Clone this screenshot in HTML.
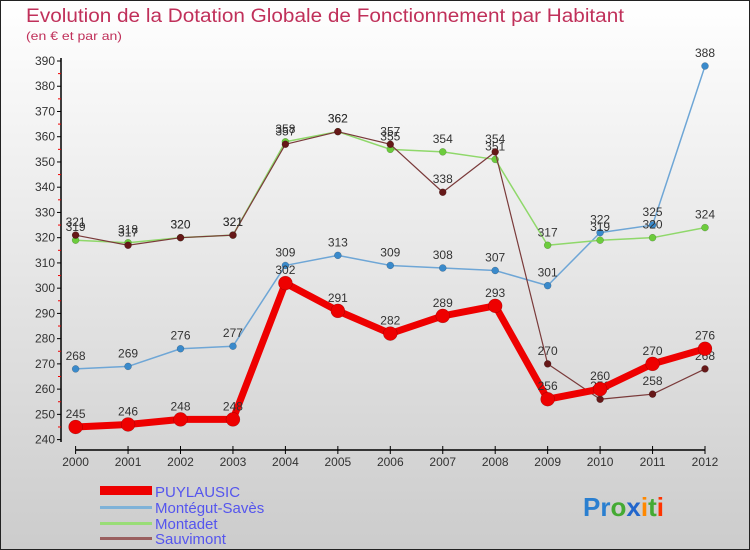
<!DOCTYPE html>
<html><head><meta charset="utf-8"><style>
body{margin:0}
#c{width:750px;height:550px;position:relative;overflow:hidden}
</style></head><body>
<div id="c">
<svg id="s" width="750" height="550" xmlns="http://www.w3.org/2000/svg" font-family="Liberation Sans, sans-serif">
<defs><linearGradient id="bg" x1="0" y1="0" x2="0" y2="1"><stop offset="0" stop-color="#ffffff"/><stop offset="1" stop-color="#cccccc"/></linearGradient></defs>
<rect x="0.5" y="0.5" width="749" height="549" fill="url(#bg)" stroke="#222" stroke-width="1"/>
<text x="26" y="22" font-size="19" fill="#c0305a" textLength="598" lengthAdjust="spacingAndGlyphs">Evolution de la Dotation Globale de Fonctionnement par Habitant</text>
<text x="26" y="40" font-size="12" fill="#c0305a" textLength="96" lengthAdjust="spacingAndGlyphs">(en € et par an)</text>
<g id="axes"></g><g id="series"></g>
<g>
<rect x="100" y="486" width="52" height="9" fill="#ee0000"/>
<text x="155" y="497" font-size="15" fill="#5555ee">PUYLAUSIC</text>
<rect x="100" y="506" width="52" height="3" fill="#7fb2d8"/>
<text x="155" y="513" font-size="15" fill="#5555ee">Montégut-Savès</text>
<rect x="100" y="522" width="52" height="3" fill="#99dd77"/>
<text x="155" y="529" font-size="15" fill="#5555ee">Montadet</text>
<rect x="100" y="537" width="52" height="3" fill="#9a6060"/>
<text x="155" y="544" font-size="15" fill="#5555ee">Sauvimont</text>
</g>
<g font-size="26" font-weight="bold">
<text x="583" y="516"><tspan fill="#2a7fd0">Pr</tspan><tspan fill="#44aa33">o</tspan><tspan fill="#2266cc">x</tspan><tspan fill="#ff8800">i</tspan><tspan fill="#44aa33">t</tspan><tspan fill="#ff3300">i</tspan></text>
</g>
</svg></div>
<script>
const years=[2000,2001,2002,2003,2004,2005,2006,2007,2008,2009,2010,2011,2012];
const yTicks=[240,250,260,270,280,290,300,310,320,330,340,350,360,370,380,390];
const puylausic=[245,246,248,248,302,291,282,289,293,256,260,270,276];
const montegut=[268,269,276,277,309,313,309,308,307,301,322,325,388];
const montadet=[319,318,320,321,358,362,355,354,351,317,319,320,324];
const sauvimont=[321,317,320,321,357,362,357,338,354,270,256,258,268];
const NS="http://www.w3.org/2000/svg";
function X(i){return 75.6+i*52.45;}
function Y(v){return 61+(390-v)*2.524;}
function el(t,a,p){const e=document.createElementNS(NS,t);for(const k in a)e.setAttribute(k,a[k]);p.appendChild(e);return e;}
const ax=document.getElementById('axes');
const yl=el('line',{x1:61,y1:58,x2:61,y2:442,stroke:'#000','stroke-width':1.5},ax);


yTicks.forEach(v=>{
 el('line',{x1:57,x2:61,y1:Y(v),y2:Y(v),stroke:'#000'},ax);
 if(v<390) el('line',{x1:58,x2:61,y1:Y(v+5),y2:Y(v+5),stroke:'#e00'},ax);
 const t=el('text',{x:55,y:Y(v)+4,'text-anchor':'end','font-size':12,fill:'#333'},ax);
 
 
 t.textContent=v;
});
const xl=el('line',{x1:X(0),y1:450,x2:X(12),y2:450,stroke:'#000','stroke-width':1.5},ax);


years.forEach((y,i)=>{
 el('line',{x1:X(i),x2:X(i),y1:446,y2:454,stroke:'#000'},ax);
 const t=el('text',{x:X(i),y:466,'text-anchor':'middle','font-size':12,fill:'#333'},ax);
 
 
 t.textContent=y;
});
const sg=document.getElementById('series');
function draw(data,name,col,dot,w,r){
 const g=el('g',{},sg);
 
 
 el('polyline',{points:data.map((v,i)=>X(i)+','+Y(v)).join(' '),fill:'none',stroke:col,'stroke-width':w,'stroke-linejoin':'round'},g);
 data.forEach((v,i)=>{
  const c=el('circle',{cx:X(i),cy:Y(v),r:r,fill:dot,stroke:'rgba(0,0,0,0.3)','stroke-width':0.5},g);
  
  
  const t=el('text',{x:X(i),y:Y(v)-9,'text-anchor':'middle','font-size':12,fill:'#333'},g);
  
  
  t.textContent=v;
 });
}
draw(montegut,'montegut-saves','#6ea6d6','#3a8acb',1.5,3.5);
draw(montadet,'montadet','#8fd86a','#6ccc3c',1.5,3.5);
draw(sauvimont,'sauvimont','#7a3a3a','#661818',1.2,3.5);
draw(puylausic,'puylausic','#ee0000','#ee0000',7,7);
</script>
</body></html>
